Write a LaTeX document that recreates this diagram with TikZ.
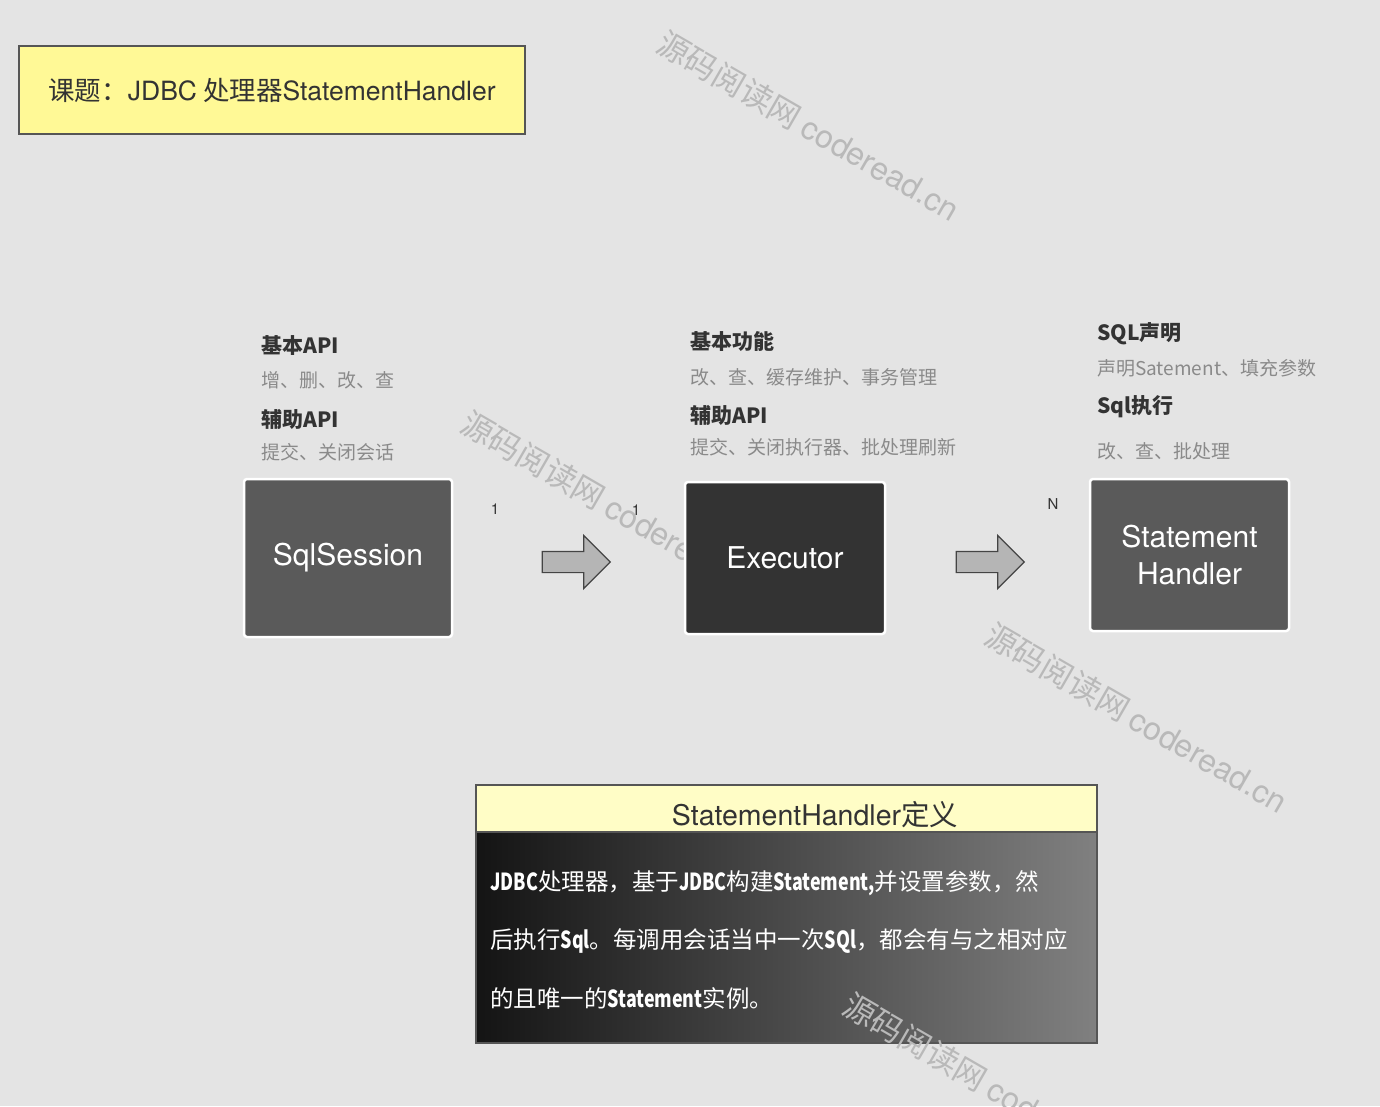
\documentclass[tikz,border=0pt]{standalone}
\usepackage{fontspec}
\setmainfont{Noto Sans CJK SC}
\newfontfamily\herosfont{TeX Gyre Heros}
\newfontfamily\condfont{Noto Sans CJK SC}[FakeStretch=0.76]
\usetikzlibrary{shapes.arrows}
\definecolor{bg}{HTML}{E4E4E4}
\definecolor{titleyellow}{HTML}{FFF996}
\definecolor{hdryellow}{HTML}{FFFDC6}
\definecolor{edge}{HTML}{555555}
\definecolor{txt}{HTML}{333333}
\definecolor{subgray}{HTML}{8A8A8A}
\definecolor{boxmid}{HTML}{5A5A5A}
\definecolor{boxdark}{HTML}{333333}
\definecolor{arrowfill}{HTML}{B5B5B5}
\definecolor{arrowedge}{HTML}{444444}
\definecolor{wmgray}{HTML}{B9B9B9}
\definecolor{gradl}{HTML}{141414}
\definecolor{gradr}{HTML}{808080}
\newcommand\bcond[1]{{\condfont\bfseries #1}}
\newcommand\lat[1]{{\herosfont #1}}
\begin{document}
\begin{tikzpicture}[x=1pt,y=-1pt,
  wm/.style={text=wmgray, font=\fontsize{32}{32}\selectfont, rotate=-30, anchor=west, inner sep=0pt},
  box/.style={draw=white, line width=2.5pt, rounded corners=3pt, text=white, align=center, font=\herosfont\fontsize{30}{37}\selectfont},
  hd/.style={anchor=west, inner sep=0pt, text=txt, font=\bfseries\fontsize{21}{21}\selectfont},
  sub/.style={anchor=west, inner sep=0pt, text=subgray, font=\fontsize{19}{19}\selectfont},
  blockarrow/.style={single arrow, draw=arrowedge, fill=arrowfill, line width=1.2pt, minimum height=68pt, inner xsep=0pt, inner ysep=10pt, single arrow head extend=16pt},
  num/.style={font=\herosfont\fontsize{15}{15}\selectfont, text=txt, inner sep=0pt},
  body/.style={anchor=west, inner sep=0pt, text=white, font=\fontsize{23.5}{23.5}\selectfont}
]
\useasboundingbox (0,0) rectangle (1380,1106);
\clip (0,0) rectangle (1380,1106);
\fill[bg] (0,0) rectangle (1380,1106);

% watermarks behind
\node[wm] (wm1) at (660,40) {源码阅读网 \lat{coderead.cn}};
\node[wm] (wm2) at (464,420) {源码阅读网 \lat{coderead.cn}};

% title
\node[draw=edge, line width=1.2pt, fill=titleyellow, minimum width=506pt, minimum height=88pt, text=txt, font=\fontsize{26.5}{26.5}\selectfont] (title) at (272,90) {课题：\lat{JDBC} 处理器\lat{StatementHandler}};

% boxes
\node[box, fill=boxmid, minimum width=208pt, minimum height=158pt] (sqls) at (348,558) {SqlSession};
\node[box, fill=boxdark, minimum width=200pt, minimum height=152pt] (exec) at (785,558) {Executor};
\node[box, fill=boxmid, minimum width=199pt, minimum height=152pt] (sh) at (1189.5,555) {Statement\\Handler};

% arrows
\node[blockarrow] (arr1) at (571,562) {};
\node[blockarrow] (arr2) at (985,562) {};
\node[num] (n1) at (495,509) {1};
\node[num] (n2) at (636,510) {1};
\node[num] (nN) at (1053,504) {N};

% labels left
\node[hd] (l1) at (261,346) {基本API};
\node[sub] (l2) at (261,380) {增、删、改、查};
\node[hd] (l3) at (261,419) {辅助API};
\node[sub] (l4) at (261,452) {提交、关闭会话};
% labels middle
\node[hd] (m1) at (690,342) {基本功能};
\node[sub] (m2) at (690,377) {改、查、缓存维护、事务管理};
\node[hd] (m3) at (690,415) {辅助API};
\node[sub] (m4) at (690,447) {提交、关闭执行器、批处理刷新};
% labels right
\node[hd] (r1) at (1097,334) {SQL声明};
\node[sub] (r2) at (1097,368) {声明Satement、填充参数};
\node[hd] (r3) at (1097,407) {Sql执行};
\node[sub] (r4) at (1097,451) {改、查、批处理};

% definition box
\node[draw=edge, line width=1.2pt, left color=gradl, right color=gradr, minimum width=621pt, minimum height=211pt, inner sep=0pt] (defbody) at (786.5,937.5) {};
\node[draw=edge, line width=1.2pt, fill=hdryellow, minimum width=621pt, minimum height=47pt, inner sep=0pt] (defhead) at (786.5,808.5) {};
\node[text=txt, font=\fontsize{28.5}{28.5}\selectfont, inner sep=0pt] (deftitle) at (815,815) {\lat{StatementHandler}定义};
\node[body] (b1) at (490,883) {\bcond{JDBC}处理器，基于\bcond{JDBC}构建\bcond{Statement,}并设置参数，然};
\node[body] (b2) at (490,941) {后执行\bcond{Sql}。每调用会话当中一次\bcond{SQl}，都会有与之相对应};
\node[body] (b3) at (490,998) {的且唯一的\bcond{Statement}实例。};

% watermarks in front
\node[wm] (wm3) at (988,632) {源码阅读网 \lat{coderead.cn}};
\node[wm] (wm4) at (846,1002) {源码阅读网 \lat{coderead.cn}};
\end{tikzpicture}
\end{document}
